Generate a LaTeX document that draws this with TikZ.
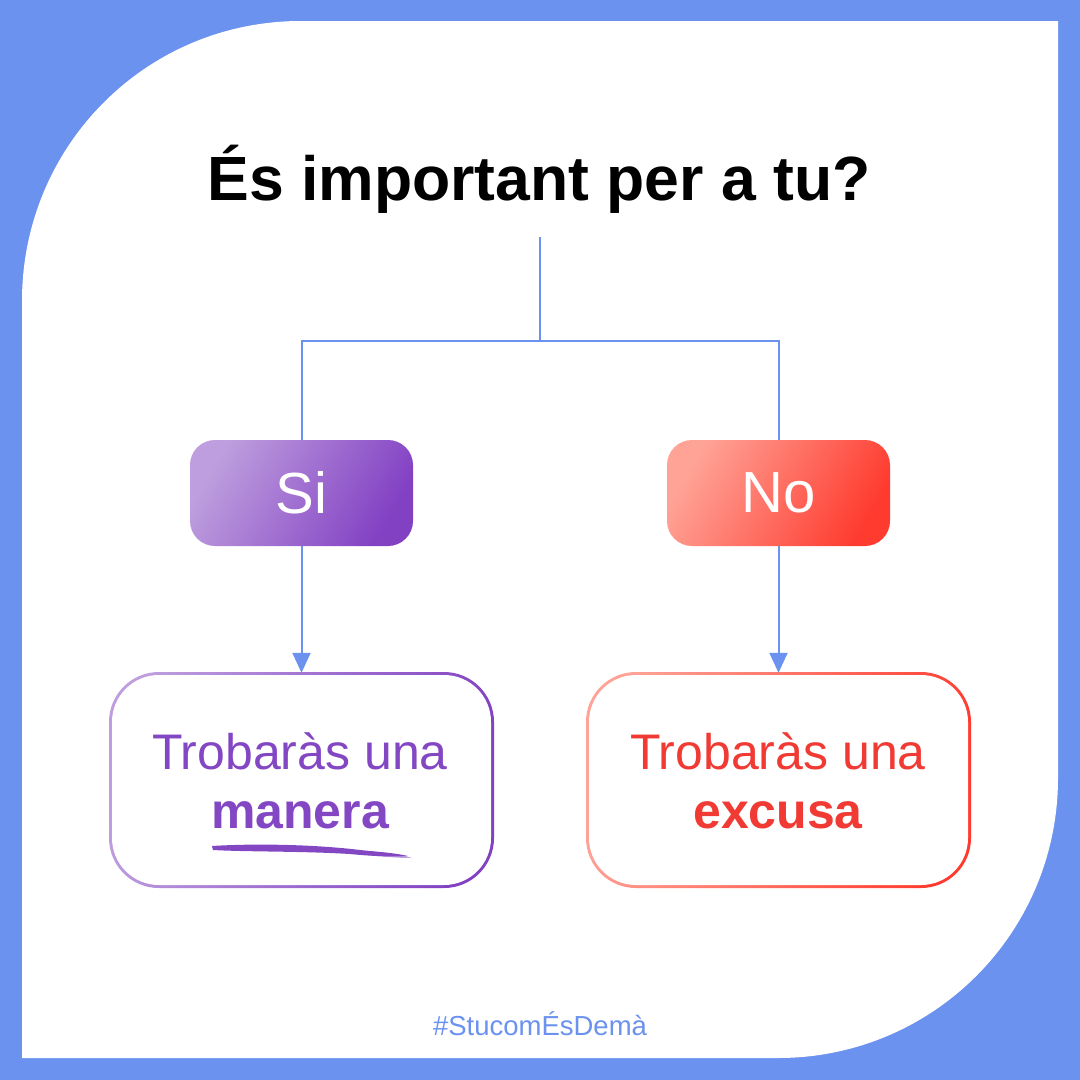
\documentclass[tikz,border=0pt]{standalone}
\usepackage{fontspec}
\setmainfont{Liberation Sans}
\usetikzlibrary{arrows.meta}
\definecolor{bgblue}{HTML}{6B92EF}
\definecolor{lineblue}{HTML}{6B92EE}
\definecolor{purpL}{HTML}{BE9EDE}
\definecolor{purpD}{HTML}{8240C3}
\definecolor{purpT}{HTML}{8447C4}
\definecolor{redL}{HTML}{FFA397}
\definecolor{redD}{HTML}{FF3B2F}
\definecolor{redT}{HTML}{F03A33}
\tikzset{
  conn/.style={draw=lineblue, line width=2pt},
  arr/.style={conn, -{Triangle[length=20pt,width=18pt]}},
  choice/.style={minimum width=223pt, minimum height=106pt, rounded corners=25pt, inner sep=0pt, text=white, font=\fontsize{58}{60}\selectfont},
  outcome/.style={minimum width=383pt, minimum height=214pt, inner sep=0pt, align=center},
  outtext/.style={anchor=base, font=\fontsize{50}{58}\selectfont},
  outbold/.style={anchor=base, font=\bfseries\fontsize{50}{58}\selectfont},
}
\begin{document}
\begin{tikzpicture}[x=1pt,y=-1pt]
\useasboundingbox (0,0) rectangle (1080,1080);
\fill[bgblue] (0,0) rectangle (1080,1080);
\fill[white] (22,1058) -- (22,301) .. controls (22,146) and (146,21) .. (301,21) -- (1058,21) -- (1058,778) .. controls (1058,933) and (933,1058) .. (778,1058) -- cycle;

% title
\node[anchor=base, font=\bfseries\fontsize{62.5}{70}\selectfont] (title) at (539,200) {És important per a tu?};
\coordinate (top) at (540,237);
\coordinate (split) at (540,341);

% choice boxes
\shade[rounded corners=25pt, top color=purpL, bottom color=purpD, shading angle=60] (190,440) rectangle (413,546);
\node[choice] (si) at (301.5,493) {Si};
\shade[rounded corners=25pt, top color=redL, bottom color=redD, shading angle=60] (667,440) rectangle (890,546);
\node[choice] (no) at (778.5,493) {No};

% outcome boxes (gradient borders)
\shade[rounded corners=50pt, top color=purpL, bottom color=purpD, shading angle=75] (109,672) rectangle (494,888);
\fill[white, rounded corners=47pt] (112,675) rectangle (491,885);
\shade[rounded corners=50pt, top color=redL, bottom color=redD, shading angle=75] (586,672) rectangle (971,888);
\fill[white, rounded corners=47pt] (589,675) rectangle (968,885);
\node[outcome] (way) at (301.5,780) {};
\node[outcome] (exc) at (778.5,780) {};

\node[outtext, text=purpT] (l1) at (300,769) {Trobaràs una};
\node[outbold, text=purpT] (l2) at (300,828) {manera};
\node[outtext, text=redT] (r1) at (778,769) {Trobaràs una};
\node[outbold, text=redT] (r2) at (778,828) {excusa};

% brush underline
\fill[purpT] (212,846) .. controls (260,843) and (320,845) .. (360,850) .. controls (380,852) and (395,853) .. (408,856) .. controls (390,857) and (370,856) .. (350,854) .. controls (300,851) and (250,852) .. (213,850) -- cycle;
\fill[purpT, opacity=0.5] (360,851) .. controls (385,852) and (400,854) .. (412,858) .. controls (395,858) and (375,856) .. (360,854) -- cycle;

% connectors
\draw[conn] (top) -- (split);
\draw[conn] (split) -| (si.north);
\draw[conn] (split) -| (no.north);
\draw[arr] (si.south) -- (way.north);
\draw[arr] (no.south) -- (exc.north);

% hashtag
\node[anchor=base, text=lineblue, font=\fontsize{27.5}{30}\selectfont] (tag) at (540,1035) {\#StucomÉsDemà};
\end{tikzpicture}
\end{document}
